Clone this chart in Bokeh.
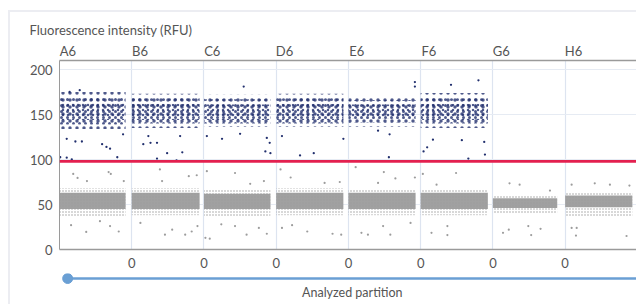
import numpy as np
from bokeh.plotting import figure
from bokeh.models import (Range1d, LinearAxis, FixedTicker, Grid, Span, ColumnDataSource,
                          CustomJSTickFormatter)
from bokeh.layouts import column
from bokeh.embed import file_html
from bokeh.resources import INLINE
from bokeh.core.properties import value

# ---------------- data ----------------
wells = ["A6", "B6", "C6", "D6", "E6", "F6", "G6", "H6"]
boundary_ticks = [1, 2, 3, 4, 5, 6, 7]
y_ticks = [0, 50, 100, 150, 200]
threshold = 98

# fraction of each well's partition slot that holds analyzed partitions
fill_frac = [0.915, 0.94, 0.92, 0.93, 0.93, 0.93, 0.89, 0.93]

# negative (gray) cluster: dense core and sparse fringe
neg_core_lo = [45, 45, 45, 45, 45, 45, 46, 47]
neg_core_hi = [63, 63, 62, 63, 63, 63, 57, 60]
neg_fr_lo = [37, 38, 37, 38, 38, 38, 40, 36]
neg_fr_hi = [68, 68, 67, 68, 67, 67, 60, 63]

# positive (navy) cluster: wells A6-F6 only (outer / middle / inner density zones)
pos_wells = ["A6", "B6", "C6", "D6", "E6", "F6"]
pos_out_lo = [134, 135, 136, 136, 136, 135]
pos_out_hi = [175, 173, 172, 173, 171, 174]
pos_mid_lo = [139, 140, 140, 140, 141, 140]
pos_mid_hi = [169, 168, 167, 168, 166, 168]
pos_in_lo = [144, 144, 144, 144, 145, 144]
pos_in_hi = [163, 162, 161, 162, 161, 162]

# individual scattered partitions (position in well units, RFU)
pos_out_x = [0.10, 0.22, 0.31, 0.59, 0.65, 0.70, 0.80, 0.01, 0.10, 0.17, 0.88, 0.14, 0.28,
             1.16, 1.26, 1.35, 1.23, 1.67, 1.49, 1.70, 1.35, 1.62,
             2.04, 2.25, 2.50, 2.87, 2.91, 2.85, 2.92, 2.55,
             3.08, 3.33, 3.52, 3.93,
             4.41, 4.57, 4.56, 4.92, 4.92,
             5.04, 5.09, 5.17, 5.57, 5.66, 5.88, 5.89, 5.42, 5.80]
pos_out_y = [123, 120, 120, 117, 114, 112, 102.5, 102.5, 102, 100, 128, 175, 177,
             117, 118.5, 118.5, 126, 126, 107, 108, 101, 99,
             126, 123, 128.5, 124, 118.5, 109, 107, 181,
             126, 104.5, 107, 123,
             132, 128, 102.5, 186, 181,
             109, 113.5, 122, 121.5, 101, 119.5, 105.5, 183, 188]

neg_out_x = [0.19, 0.25, 0.38, 0.68, 0.71, 0.89, 1.39, 1.42, 1.79, 1.90, 2.04, 2.43, 2.83, 2.64,
             3.06, 3.20, 3.67, 3.88, 4.10, 4.49, 4.41, 4.65, 4.92, 5.03, 5.49, 5.22,
             6.23, 6.37, 6.79, 7.09, 7.41, 7.62, 7.89,
             0.16, 0.37, 0.56, 0.70, 0.82, 1.12, 1.46, 1.56, 1.74, 1.83, 1.91, 2.02, 2.08,
             2.24, 2.43, 2.59, 2.76, 2.87, 3.08, 3.22, 3.43, 3.78, 3.90, 4.18, 4.27, 4.48,
             4.58, 4.86, 5.15, 5.37, 5.37, 6.14, 6.22, 6.49, 6.53, 6.66, 7.09, 7.16, 7.15, 7.85]
neg_out_y = [84, 79.5, 76, 86, 84, 76, 89, 76, 81.5, 82.5, 87, 85, 76, 73,
             89, 80, 74, 75, 91.5, 86, 74, 79, 80, 84, 85, 72,
             73.5, 72, 65.5, 72, 73.5, 72, 71,
             27, 19.5, 31.5, 26, 20, 29.5, 16.5, 22, 16.5, 20, 26, 13, 12,
             28, 26, 16.5, 24, 17.5, 24, 27, 20, 17.5, 16.5, 18.5, 16.5, 26,
             16.5, 29.5, 18.5, 26, 16, 18.5, 22, 26, 16, 23, 24, 24, 15.5, 15]

# ---------------- styling ----------------
FONT = "Lato"
TXT = "#555555"
NAVY = "#22306e"
GRAY = "#9c9c9c"
AXIS = "#9a9a9a"
GRID = "#dde4f0"

X_END = 7.988
LABEL_SHIFT = 0.115  # well labels sit just right of each well's left boundary

p = figure(width=626, height=261, x_range=Range1d(0, X_END), y_range=Range1d(0, 210),
           output_backend="svg", toolbar_location=None,
           x_axis_location=None, y_axis_location=None,
           min_border_left=49, min_border_right=0, min_border_top=48, min_border_bottom=24,
           title="Fluorescence intensity (RFU)")
p.outline_line_color = None
p.background_fill_color = "white"
p.border_fill_color = "white"
p.title.align = "left"
p.title.offset = -30
p.title.standoff = 3
p.title.text_font = FONT
p.title.text_font_size = "13px"
p.title.text_font_style = "normal"
p.title.text_color = TXT
p.grid.visible = False


def style_axis(ax, standoff):
    ax.axis_line_color = AXIS
    ax.major_tick_line_color = None
    ax.minor_tick_line_color = None
    ax.major_tick_out = 0
    ax.major_tick_in = 0
    ax.minor_tick_out = 0
    ax.minor_tick_in = 0
    ax.major_label_text_font = FONT
    ax.major_label_text_font_size = "13px"
    ax.major_label_text_color = TXT
    ax.major_label_standoff = standoff


left = LinearAxis(ticker=FixedTicker(ticks=y_ticks))
style_axis(left, 7)
p.add_layout(left, "left")

top = LinearAxis(ticker=FixedTicker(ticks=[i + LABEL_SHIFT for i in range(len(wells))]),
                 formatter=CustomJSTickFormatter(args=dict(labels=wells),
                                                 code="return labels[Math.floor(tick)] || ''"))
style_axis(top, 2)
top.axis_line_width = 1.5
p.add_layout(top, "above")

bottom = LinearAxis(ticker=FixedTicker(ticks=boundary_ticks),
                    formatter=CustomJSTickFormatter(code="return '0'"))
style_axis(bottom, 8)
bottom.axis_line_width = 1.5
p.add_layout(bottom, "below")

p.add_layout(Grid(dimension=0, ticker=FixedTicker(ticks=boundary_ticks),
                  grid_line_color=GRID, grid_line_width=1.2))
p.add_layout(Grid(dimension=1, ticker=FixedTicker(ticks=y_ticks[1:]),
                  grid_line_color="#e6ebf3", grid_line_width=1.2))

# negative cluster
idx = np.arange(len(wells))
frac = np.array(fill_frac)
neg = ColumnDataSource(dict(l=idx + 0.0, r=idx + frac,
                            cl=neg_core_lo, ch=neg_core_hi, fl=neg_fr_lo, fh=neg_fr_hi))
p.quad(left="l", right="r", bottom="fl", top="fh", source=neg, fill_alpha=0, line_alpha=0,
       hatch_pattern="dot", hatch_color=GRAY, hatch_scale=3, hatch_weight=1.0)
p.quad(left="l", right="r", bottom="cl", top="ch", source=neg, fill_color=GRAY,
       fill_alpha=0.95, line_alpha=0)

# positive cluster
pidx = np.arange(len(pos_wells))
pos = ColumnDataSource(dict(l=pidx + 0.0, r=pidx + frac[:len(pos_wells)],
                            ol=pos_out_lo, oh=pos_out_hi, ml=pos_mid_lo, mh=pos_mid_hi,
                            il=pos_in_lo, ih=pos_in_hi))
for (lo, hi, sc) in [("ol", "oh", 7), ("ml", "mh", 6), ("il", "ih", 5)]:
    p.quad(left="l", right="r", bottom=lo, top=hi, source=pos, fill_alpha=0, line_alpha=0,
           hatch_pattern="dot", hatch_color=NAVY, hatch_scale=sc, hatch_weight=0.9,
           hatch_alpha=0.8)

p.scatter(neg_out_x, neg_out_y, size=2.2, color=GRAY, line_alpha=0)
p.scatter(pos_out_x, pos_out_y, size=2.3, color=NAVY, line_alpha=0)

p.add_layout(Span(location=threshold, dimension="width", line_color="#e3204f", line_width=2.8))

# slider strip
s = figure(width=626, height=31, x_range=Range1d(-0.129, X_END), y_range=Range1d(0, 31),
           output_backend="svg", toolbar_location=None,
           x_axis_location=None, y_axis_location=None,
           min_border_left=40, min_border_right=0, min_border_top=0, min_border_bottom=0)
s.outline_line_color = None
s.grid.visible = False
s.segment(x0=[-0.014], y0=[26], x1=[X_END], y1=[26], line_color="#6a9fd4", line_width=2.5)
s.scatter([-0.014], [26], size=10, color="#6a9fd4")
s.text([3.99], [12], text=["Analyzed partition"], text_font=value(FONT), text_font_size="12.5px",
       text_color=TXT, text_align="center", text_baseline="middle")

layout = column(p, s, spacing=0, margin=(10, 0, 0, 8),
                styles={"border-left": "2px solid #ecedf2", "border-top": "2px solid #ecedf2"})

open("out.html", "w").write(file_html(layout, INLINE))
